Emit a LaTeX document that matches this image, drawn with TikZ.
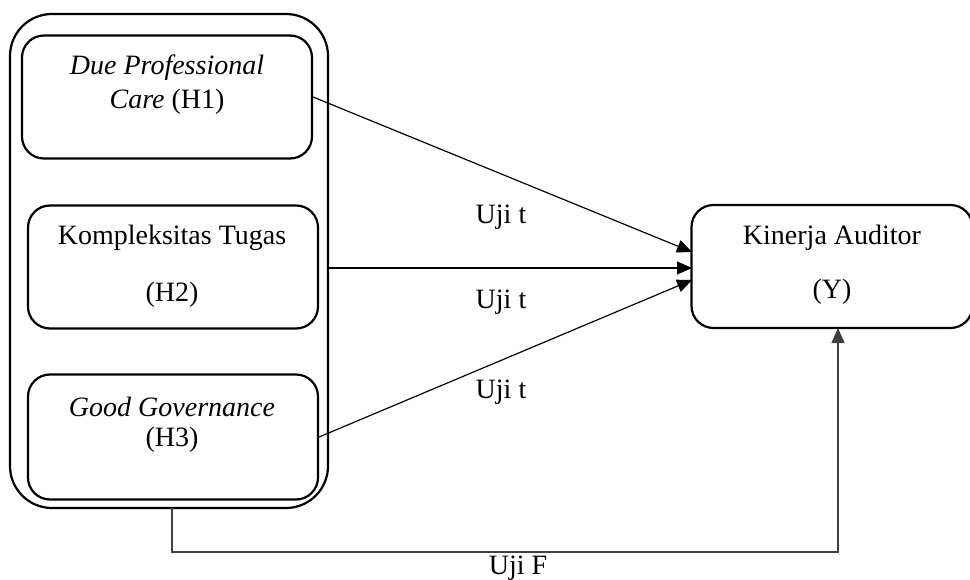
\documentclass[tikz,border=0pt]{standalone}
\usepackage{fontspec}
\setmainfont{Liberation Serif}
\usetikzlibrary{arrows.meta}
\begin{document}
\begin{tikzpicture}[x=1pt,y=-1pt,
  txt/.style={font=\fontsize{28}{32}\selectfont, inner sep=0pt, anchor=center},
  rbox/.style={draw=black, line width=2.2pt, rounded corners=22pt, inner sep=0pt},
  outerbox/.style={draw=black, line width=2.2pt, rounded corners=42pt, inner sep=0pt},
  conn/.style={draw=black, line width=1.2pt, -{Triangle[length=15pt,width=13pt]}}
]
\useasboundingbox (0,0) rectangle (970,580);

% group frame around the three independent variables
\node[outerbox, minimum width=318pt, minimum height=494pt] (outer) at (169,261) {};

% independent variables
\node[rbox, minimum width=290pt, minimum height=123pt] (h1) at (167,97) {};
\node[rbox, minimum width=290pt, minimum height=123pt] (h2) at (173,267) {};
\node[rbox, minimum width=290pt, minimum height=125pt] (h3) at (173,437) {};

\node[txt] (h1a) at (167,68) {\itshape Due Professional};
\node[txt] (h1b) at (167,102) {\textit{Care} (H1)};
\node[txt] (h2a) at (172,238) {Kompleksitas Tugas};
\node[txt] (h2b) at (172,295) {(H2)};
\node[txt] (h3a) at (172,407) {\itshape Good Governance};
\node[txt] (h3b) at (172,440) {(H3)};

% dependent variable
\node[rbox, minimum width=281pt, minimum height=123pt] (y) at (832,266.5) {};
\node[txt] (ya) at (832,238) {Kinerja Auditor};
\node[txt] (yb) at (832,292) {(Y)};

% arrow end points on the left side of Y
\coordinate (t1) at (692,252);
\coordinate (t2) at (692,268);
\coordinate (t3) at (692,280);

% partial tests
\draw[conn] (h1.east) -- (t1);
\draw[conn] (outer.east |- t2) -- (t2);
\draw[conn] (h3.east) -- (t3);

\node[txt] (u1) at (501,217) {Uji t};
\node[txt] (u2) at (501,302) {Uji t};
\node[txt] (u3) at (501,392) {Uji t};

% simultaneous test
\coordinate (fstart) at (172,508);
\coordinate (fcorner) at (838,552);
\coordinate (fend) at (838,328);
\draw[conn, draw=black!75, line width=1.4pt] (fstart) |- (fcorner) -- (fend);
\node[txt] (uf) at (518,568) {Uji F};
\end{tikzpicture}
\end{document}
